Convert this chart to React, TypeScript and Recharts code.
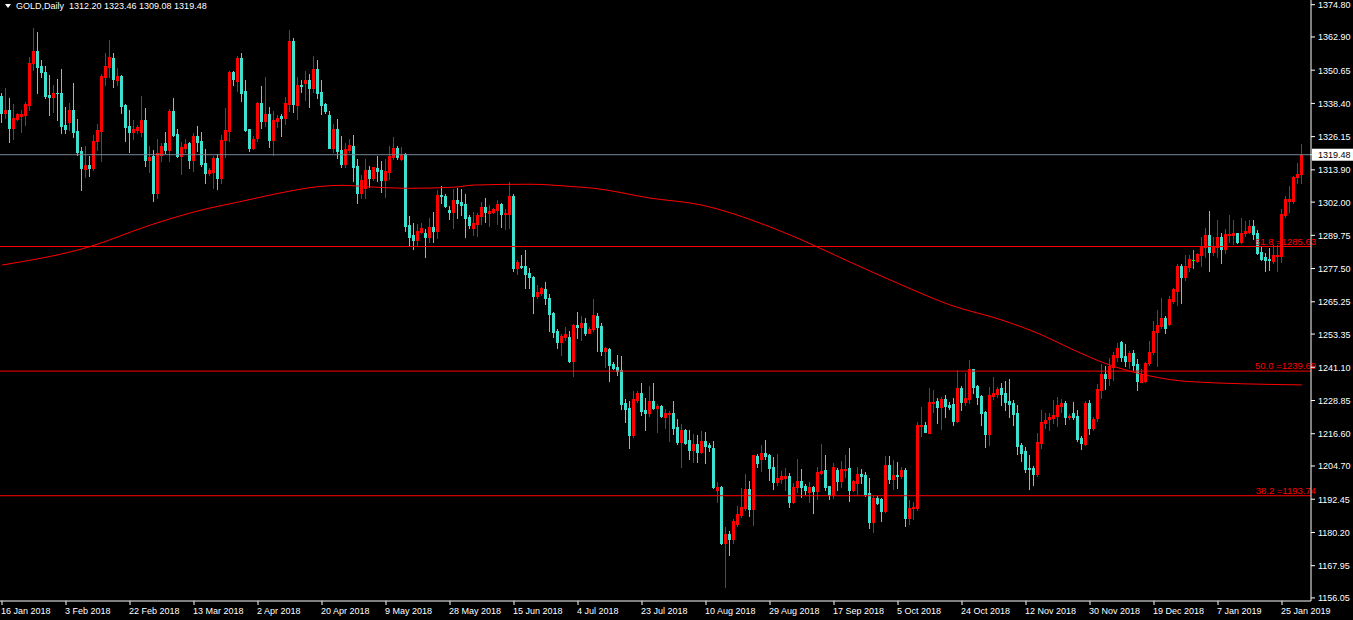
import React from "react"
import { ComposedChart, Bar, Line, XAxis, YAxis, ReferenceLine } from "recharts"

const FONT = '"Liberation Sans", Arial, sans-serif'
const UP = "#FF0000"
const DOWN = "#40E0D0"
const DOJI = "#00FF00"

// daily candles, 16 Jan 2018 .. 31 Jan 2019 (Mon-Sat server bars)
const opens = [
  1341.1, 1335.0, 1336.0, 1329.5, 1332.7, 1333.8, 1334.2, 1337.8, 1353.2, 1357.7,
  1352.2, 1350.1, 1341.5, 1340.9, 1342.4, 1342.1, 1330.5, 1331.7, 1335.8, 1328.2,
  1320.9, 1314.1, 1315.7, 1314.7, 1324.6, 1328.4, 1348.3, 1352.0, 1355.0, 1347.0,
  1348.5, 1337.8, 1330.1, 1328.0, 1328.6, 1328.0, 1332.3, 1317.5, 1319.0, 1305.5,
  1319.4, 1323.7, 1321.2, 1335.6, 1327.1, 1319.1, 1322.0, 1323.8, 1317.5, 1326.4,
  1324.5, 1316.3, 1312.9, 1313.2, 1318.4, 1311.0, 1324.9, 1328.4, 1350.1, 1346.7,
  1355.3, 1343.0, 1328.8, 1322.1, 1325.5, 1338.6, 1331.9, 1334.5, 1324.9, 1331.9,
  1333.9, 1333.1, 1338.2, 1361.5, 1337.8, 1345.2, 1346.1, 1347.0, 1344.2, 1351.1,
  1342.5, 1338.1, 1334.1, 1321.8, 1329.0, 1321.2, 1315.9, 1321.1, 1322.8, 1315.3,
  1305.5, 1307.1, 1313.8, 1311.0, 1314.5, 1313.8, 1310.2, 1313.2, 1318.8, 1322.1,
  1317.9, 1319.7, 1293.6, 1289.9, 1288.0, 1291.1, 1290.7, 1289.3, 1292.7, 1291.5,
  1304.6, 1304.3, 1299.1, 1298.5, 1302.8, 1302.2, 1301.3, 1296.4, 1292.3, 1293.9,
  1296.9, 1300.1, 1298.1, 1298.5, 1299.1, 1301.3, 1297.5, 1297.6, 1304.3, 1277.6,
  1278.6, 1278.4, 1276.0, 1274.5, 1267.5, 1268.4, 1270.0, 1266.8, 1261.2, 1254.5,
  1250.5, 1252.4, 1252.3, 1243.5, 1256.7, 1256.1, 1257.6, 1253.9, 1255.2, 1260.0,
  1256.3, 1247.2, 1247.8, 1242.3, 1241.2, 1240.1, 1228.1, 1226.0, 1216.1, 1229.0,
  1231.7, 1225.4, 1224.4, 1228.7, 1226.2, 1226.8, 1222.9, 1223.9, 1224.4, 1219.2,
  1213.6, 1218.0, 1214.3, 1210.6, 1212.8, 1209.9, 1214.0, 1212.6, 1211.5, 1195.9,
  1197.1, 1176.4, 1179.6, 1177.8, 1183.3, 1186.6, 1189.1, 1196.2, 1188.8, 1208.4,
  1207.3, 1209.6, 1208.8, 1204.5, 1198.9, 1199.9, 1200.4, 1201.0, 1191.5, 1196.8,
  1199.2, 1197.3, 1195.2, 1197.1, 1195.6, 1202.0, 1203.2, 1197.3, 1194.0, 1203.2,
  1199.2, 1203.2, 1203.8, 1195.9, 1198.6, 1201.8, 1201.4, 1194.6, 1184.1, 1193.0,
  1192.4, 1188.2, 1205.1, 1200.0, 1201.4, 1201.0, 1203.2, 1185.7, 1189.1, 1189.3,
  1219.6, 1219.8, 1217.0, 1228.1, 1228.7, 1226.6, 1229.3, 1227.2, 1227.6, 1221.3,
  1233.3, 1228.2, 1229.4, 1240.3, 1234.2, 1230.5, 1224.7, 1216.5, 1230.5, 1231.3,
  1233.3, 1231.5, 1228.8, 1227.8, 1224.4, 1212.5, 1210.2, 1204.1, 1204.1, 1201.8,
  1213.3, 1220.4, 1221.9, 1222.5, 1223.1, 1227.0, 1228.1, 1222.7, 1224.1, 1223.1,
  1214.9, 1212.8, 1228.1, 1218.6, 1222.3, 1232.7, 1238.6, 1237.3, 1241.3, 1245.0,
  1250.5, 1245.3, 1243.4, 1246.5, 1242.3, 1235.8, 1236.0, 1242.6, 1246.6, 1254.2,
  1256.3, 1259.4, 1257.1, 1265.5, 1269.4, 1278.6, 1274.5, 1278.2, 1280.7, 1280.3,
  1282.5, 1285.6, 1289.9, 1283.7, 1285.3, 1289.0, 1284.7, 1289.9, 1289.9, 1290.5,
  1287.4, 1290.5, 1291.1, 1293.2, 1290.5, 1283.5, 1281.9, 1280.9, 1280.4, 1282.1,
  1282.3, 1297.3, 1302.4, 1302.4, 1311.1, 1312.2,
]

const highs = [
  1342.4, 1344.0, 1340.3, 1338.2, 1335.0, 1336.0, 1339.1, 1355.6, 1366.1, 1364.6,
  1354.4, 1352.2, 1348.9, 1345.2, 1347.3, 1351.0, 1337.0, 1338.4, 1345.8, 1332.7,
  1322.5, 1322.7, 1319.1, 1326.8, 1330.9, 1349.3, 1357.1, 1361.8, 1356.9, 1351.4,
  1349.0, 1338.2, 1336.0, 1332.3, 1330.4, 1341.1, 1336.6, 1322.7, 1321.2, 1325.3,
  1323.7, 1327.7, 1336.2, 1340.3, 1329.0, 1324.2, 1325.3, 1324.2, 1327.4, 1330.1,
  1328.0, 1321.5, 1314.7, 1319.0, 1319.6, 1326.8, 1336.6, 1350.5, 1350.5, 1355.9,
  1356.9, 1347.0, 1329.0, 1326.4, 1338.8, 1344.8, 1348.3, 1337.0, 1335.6, 1334.1,
  1334.5, 1340.9, 1365.5, 1362.4, 1348.3, 1347.0, 1350.4, 1349.2, 1355.9, 1354.4,
  1347.0, 1338.7, 1335.6, 1330.8, 1332.5, 1326.2, 1323.9, 1325.2, 1326.8, 1318.0,
  1312.0, 1317.8, 1315.3, 1314.8, 1319.0, 1317.2, 1317.8, 1322.7, 1325.9, 1322.7,
  1322.4, 1320.2, 1296.9, 1294.2, 1293.8, 1294.2, 1292.1, 1296.0, 1298.5, 1306.5,
  1307.9, 1305.0, 1300.6, 1306.7, 1307.1, 1306.7, 1305.0, 1297.3, 1298.5, 1297.9,
  1301.9, 1303.4, 1300.9, 1299.7, 1302.8, 1301.6, 1299.3, 1309.3, 1304.9, 1280.7,
  1282.5, 1284.3, 1277.6, 1274.9, 1271.4, 1270.8, 1272.7, 1268.1, 1261.6, 1255.2,
  1253.3, 1256.0, 1254.5, 1257.1, 1261.4, 1260.1, 1259.2, 1256.0, 1266.2, 1261.2,
  1257.3, 1248.7, 1248.3, 1243.2, 1245.6, 1245.4, 1229.3, 1228.7, 1232.4, 1232.4,
  1235.4, 1229.9, 1234.2, 1235.4, 1227.6, 1227.2, 1225.6, 1225.1, 1228.7, 1221.9,
  1220.2, 1218.3, 1218.0, 1216.5, 1216.1, 1217.7, 1217.1, 1213.3, 1213.9, 1198.9,
  1197.5, 1182.3, 1180.7, 1185.2, 1190.0, 1196.5, 1201.7, 1199.2, 1208.8, 1209.0,
  1212.4, 1214.3, 1209.1, 1208.1, 1209.1, 1203.0, 1203.8, 1202.0, 1198.3, 1207.3,
  1203.5, 1198.1, 1198.7, 1197.3, 1204.5, 1212.8, 1208.8, 1197.5, 1205.8, 1203.8,
  1206.7, 1208.8, 1211.2, 1199.5, 1204.2, 1203.6, 1202.4, 1200.4, 1194.0, 1193.6,
  1192.8, 1208.4, 1208.4, 1206.9, 1206.1, 1204.2, 1203.8, 1192.2, 1191.4, 1221.1,
  1226.3, 1221.1, 1233.3, 1232.7, 1229.7, 1230.3, 1230.9, 1228.4, 1229.7, 1240.1,
  1234.2, 1239.1, 1243.8, 1240.5, 1234.6, 1230.9, 1225.1, 1233.7, 1237.4, 1233.7,
  1235.4, 1236.0, 1236.8, 1229.0, 1227.2, 1213.1, 1211.6, 1208.8, 1204.7, 1216.8,
  1225.4, 1224.1, 1224.1, 1229.0, 1230.0, 1229.3, 1228.8, 1223.9, 1228.4, 1225.4,
  1215.9, 1228.7, 1229.0, 1222.9, 1234.9, 1242.3, 1241.6, 1244.4, 1246.9, 1249.9,
  1250.8, 1249.6, 1247.1, 1247.5, 1244.0, 1240.3, 1243.2, 1250.8, 1258.2, 1262.2,
  1266.5, 1260.0, 1267.4, 1270.2, 1279.1, 1279.2, 1282.5, 1282.5, 1284.4, 1283.4,
  1289.3, 1292.3, 1298.7, 1289.3, 1295.4, 1290.5, 1292.0, 1297.3, 1295.4, 1290.7,
  1296.0, 1295.2, 1295.4, 1295.4, 1291.7, 1285.6, 1283.1, 1285.0, 1286.2, 1286.2,
  1299.3, 1304.3, 1308.0, 1311.6, 1316.3, 1323.46,
]

const lows = [
  1331.7, 1332.9, 1324.0, 1325.4, 1332.3, 1328.0, 1330.5, 1336.0, 1350.7, 1342.4,
  1348.3, 1340.3, 1334.2, 1335.4, 1332.3, 1327.4, 1327.4, 1328.6, 1325.9, 1319.4,
  1306.5, 1311.2, 1311.8, 1313.9, 1321.3, 1317.3, 1345.2, 1348.3, 1344.6, 1345.2,
  1335.0, 1324.7, 1320.6, 1325.4, 1327.4, 1326.4, 1315.5, 1313.2, 1302.5, 1303.6,
  1317.3, 1320.0, 1317.3, 1326.4, 1318.8, 1312.5, 1320.6, 1314.7, 1313.6, 1321.0,
  1315.5, 1308.9, 1311.9, 1307.3, 1307.0, 1308.9, 1318.8, 1324.7, 1345.2, 1343.1,
  1339.3, 1328.2, 1320.9, 1321.6, 1324.5, 1329.5, 1330.2, 1322.5, 1319.4, 1329.8,
  1326.4, 1330.8, 1335.6, 1335.4, 1332.7, 1342.7, 1339.7, 1337.1, 1342.7, 1340.5,
  1334.5, 1334.7, 1321.8, 1320.6, 1318.2, 1315.1, 1315.1, 1320.4, 1309.8, 1301.6,
  1303.4, 1303.4, 1307.7, 1310.2, 1309.9, 1305.9, 1304.0, 1310.4, 1317.8, 1317.8,
  1317.5, 1291.5, 1285.8, 1284.6, 1285.8, 1290.5, 1281.9, 1287.4, 1287.4, 1288.6,
  1301.6, 1300.1, 1295.7, 1292.6, 1296.0, 1297.3, 1289.3, 1292.3, 1289.9, 1289.5,
  1293.8, 1294.5, 1293.3, 1298.1, 1293.9, 1293.0, 1292.0, 1292.6, 1276.7, 1275.4,
  1277.6, 1270.5, 1270.5, 1261.2, 1266.8, 1267.8, 1264.3, 1254.6, 1252.1, 1248.3,
  1245.6, 1251.3, 1243.0, 1238.0, 1252.0, 1251.3, 1253.0, 1253.6, 1254.5, 1247.2,
  1245.6, 1241.3, 1236.2, 1240.4, 1238.3, 1225.7, 1221.1, 1211.5, 1215.5, 1228.4,
  1223.5, 1218.0, 1223.1, 1225.6, 1217.4, 1222.6, 1218.8, 1213.9, 1216.5, 1212.8,
  1204.5, 1212.8, 1207.2, 1206.3, 1206.3, 1209.4, 1205.7, 1210.4, 1196.5, 1191.5,
  1176.0, 1160.2, 1171.9, 1176.4, 1182.6, 1186.0, 1188.5, 1186.3, 1182.9, 1204.5,
  1203.0, 1207.2, 1199.5, 1196.2, 1197.7, 1198.3, 1195.9, 1189.7, 1190.9, 1195.2,
  1193.4, 1194.4, 1191.5, 1187.5, 1192.5, 1201.7, 1195.9, 1192.5, 1192.8, 1195.9,
  1196.8, 1200.5, 1191.9, 1195.6, 1194.4, 1198.3, 1193.6, 1182.0, 1180.5, 1190.7,
  1184.5, 1187.9, 1198.3, 1196.1, 1196.5, 1200.2, 1182.6, 1183.2, 1185.3, 1188.5,
  1215.9, 1217.2, 1216.8, 1224.7, 1220.7, 1218.3, 1222.9, 1225.6, 1219.8, 1220.8,
  1225.4, 1227.2, 1228.1, 1231.7, 1227.6, 1219.8, 1211.6, 1212.5, 1229.3, 1230.3,
  1227.2, 1225.4, 1222.9, 1219.8, 1209.1, 1206.7, 1202.6, 1196.2, 1197.7, 1201.0,
  1211.5, 1218.6, 1218.0, 1220.4, 1219.5, 1224.7, 1220.2, 1221.9, 1221.9, 1214.0,
  1211.1, 1212.4, 1216.5, 1218.0, 1221.3, 1229.9, 1233.1, 1234.6, 1236.4, 1243.5,
  1243.4, 1241.6, 1241.0, 1240.1, 1232.7, 1235.6, 1235.6, 1241.9, 1246.0, 1241.6,
  1255.5, 1253.9, 1256.7, 1264.9, 1264.1, 1264.7, 1273.3, 1276.7, 1277.6, 1280.1,
  1278.5, 1281.9, 1276.7, 1282.5, 1281.9, 1279.4, 1283.4, 1287.4, 1286.6, 1287.1,
  1286.8, 1289.5, 1290.5, 1288.3, 1282.9, 1280.7, 1276.7, 1277.0, 1279.7, 1276.7,
  1280.1, 1296.4, 1298.5, 1301.6, 1309.2, 1309.08,
]

const closes = [
  1335.0, 1336.0, 1329.5, 1332.9, 1334.5, 1334.5, 1338.2, 1353.2, 1357.7, 1352.0,
  1350.1, 1341.1, 1340.8, 1342.1, 1342.1, 1330.1, 1329.1, 1335.8, 1328.0, 1320.5,
  1314.4, 1315.7, 1314.4, 1324.6, 1328.6, 1348.5, 1352.2, 1355.6, 1347.4, 1348.5,
  1337.4, 1329.8, 1327.9, 1329.1, 1329.6, 1332.3, 1317.5, 1318.8, 1305.5, 1320.0,
  1322.7, 1321.2, 1335.6, 1326.8, 1319.0, 1322.2, 1323.4, 1317.5, 1326.4, 1324.3,
  1316.1, 1312.9, 1313.9, 1318.4, 1311.0, 1324.9, 1328.6, 1350.1, 1347.4, 1355.3,
  1342.4, 1328.6, 1321.8, 1325.3, 1338.6, 1331.9, 1334.5, 1324.9, 1332.3, 1332.9,
  1333.1, 1338.6, 1361.5, 1338.1, 1345.2, 1344.8, 1347.0, 1344.2, 1351.1, 1342.1,
  1337.8, 1335.6, 1322.1, 1329.0, 1320.9, 1315.9, 1321.6, 1323.1, 1315.1, 1305.5,
  1310.2, 1313.8, 1311.0, 1314.8, 1313.5, 1310.2, 1313.5, 1319.1, 1322.1, 1318.8,
  1319.4, 1293.2, 1289.3, 1288.0, 1291.4, 1292.6, 1289.3, 1292.7, 1291.5, 1304.6,
  1304.4, 1300.6, 1298.5, 1302.8, 1301.8, 1300.9, 1296.3, 1293.6, 1294.2, 1297.3,
  1300.1, 1298.2, 1298.9, 1299.3, 1301.3, 1297.5, 1298.1, 1304.3, 1277.8, 1279.8,
  1278.2, 1275.5, 1274.3, 1267.5, 1269.0, 1270.2, 1266.5, 1260.9, 1254.2, 1250.5,
  1252.6, 1253.5, 1243.5, 1256.7, 1256.1, 1257.6, 1253.9, 1255.2, 1260.4, 1256.1,
  1247.1, 1248.1, 1241.9, 1240.8, 1239.7, 1227.6, 1225.7, 1216.1, 1229.4, 1231.7,
  1225.1, 1224.4, 1228.7, 1226.2, 1227.0, 1223.1, 1224.4, 1224.4, 1218.8, 1213.6,
  1218.0, 1213.3, 1210.6, 1212.8, 1209.9, 1214.0, 1212.2, 1211.8, 1197.1, 1197.1,
  1176.4, 1179.6, 1177.8, 1184.4, 1187.0, 1189.5, 1196.2, 1188.8, 1208.8, 1205.9,
  1209.4, 1208.5, 1204.1, 1198.9, 1200.2, 1201.0, 1201.0, 1191.5, 1196.8, 1199.2,
  1197.1, 1195.9, 1196.8, 1195.6, 1202.5, 1202.9, 1197.1, 1194.0, 1204.5, 1199.2,
  1203.6, 1203.6, 1195.9, 1199.2, 1201.8, 1201.0, 1194.4, 1184.1, 1193.0, 1191.2,
  1188.2, 1205.1, 1200.0, 1201.4, 1201.1, 1203.2, 1185.7, 1189.3, 1189.7, 1219.8,
  1219.8, 1217.4, 1228.2, 1228.3, 1226.6, 1229.3, 1226.8, 1226.6, 1221.3, 1233.3,
  1228.4, 1229.7, 1240.3, 1234.0, 1230.3, 1224.4, 1216.5, 1230.9, 1231.5, 1233.1,
  1231.3, 1228.4, 1227.4, 1223.9, 1212.1, 1209.4, 1203.5, 1203.7, 1201.8, 1213.7,
  1221.1, 1221.7, 1222.9, 1223.5, 1227.2, 1228.1, 1222.9, 1223.1, 1222.9, 1214.5,
  1213.1, 1228.1, 1218.6, 1222.0, 1233.1, 1238.6, 1237.0, 1241.6, 1245.6, 1248.3,
  1245.0, 1243.4, 1246.5, 1241.9, 1236.0, 1238.5, 1242.8, 1246.9, 1254.5, 1256.7,
  1259.4, 1255.7, 1266.2, 1269.8, 1278.6, 1274.5, 1278.6, 1281.0, 1280.7, 1282.9,
  1285.8, 1289.9, 1283.7, 1285.3, 1289.0, 1284.7, 1290.1, 1290.3, 1290.5, 1287.4,
  1290.5, 1291.5, 1293.2, 1290.3, 1283.4, 1281.0, 1280.7, 1280.7, 1282.5, 1282.5,
  1297.6, 1303.0, 1303.0, 1311.4, 1312.4, 1319.48,
]

// moving average read at some bars: [bar index, value]
const maPoints: [number, number][] = [
  [0, 1278.8], [22, 1285.6], [37, 1293.5], [51, 1299.5], [59, 1302.0], [69, 1305.2],
  [79, 1307.7], [85, 1308.2], [91, 1307.7], [102, 1307.1], [113, 1307.5], [118, 1308.3],
  [132, 1308.6], [142, 1307.8], [148, 1307.1], [162, 1303.5], [175, 1300.9], [190, 1294.0],
  [200, 1288.0], [212, 1279.9], [225, 1271.4], [237, 1264.1], [250, 1258.5], [260, 1253.0],
  [267, 1248.1], [277, 1241.9], [287, 1237.9], [297, 1235.8], [325, 1234.6],
]

const priceTicks = [
  1374.8, 1362.9, 1350.65, 1338.4, 1326.15, 1319.48, 1313.9, 1302.0, 1289.75, 1277.5,
  1265.25, 1253.35, 1241.1, 1228.85, 1216.6, 1204.7, 1192.45, 1180.2, 1167.95, 1156.05,
]
const LAST_PRICE = 1319.48

const dateTicks = [0, 16, 32, 48, 64, 80, 96, 112, 128, 144, 160, 176, 192, 208, 224, 240, 256, 272, 288, 304, 320]
const dateLabels = [
  "16 Jan 2018", "3 Feb 2018", "22 Feb 2018", "13 Mar 2018", "2 Apr 2018", "20 Apr 2018",
  "9 May 2018", "28 May 2018", "15 Jun 2018", "4 Jul 2018", "23 Jul 2018", "10 Aug 2018",
  "29 Aug 2018", "17 Sep 2018", "5 Oct 2018", "24 Oct 2018", "12 Nov 2018", "30 Nov 2018",
  "19 Dec 2018", "7 Jan 2019", "25 Jan 2019",
]

const fibNames = ["61.8", "50.0", "38.2"]
const fibPrices = [1285.63, 1239.69, 1193.74]

const maByBar = new Map(maPoints)
const rows = opens.map((o, i) => ({
  i,
  o,
  h: highs[i],
  l: lows[i],
  c: closes[i],
  range: [lows[i], highs[i]],
  ma: maByBar.has(i) ? maByBar.get(i) : null,
}))

function Candle(props: any) {
  const { x, y, width, height, payload } = props
  const { o, h, l, c } = payload
  const top = Math.min(y, y + height)
  const span = Math.abs(height)
  const py = (v: number) => (h === l ? top : top + ((h - v) / (h - l)) * span)
  const cx = Math.round(x + width / 2)
  const color = c > o ? UP : c < o ? DOWN : DOJI
  const wTop = Math.round(top)
  const wBot = Math.round(top + span)
  const bTop = Math.round(Math.min(py(o), py(c)))
  const bBot = Math.round(Math.max(py(o), py(c)))
  return (
    <g>
      <rect x={cx - 1} y={wTop} width={1} height={Math.max(1, wBot - wTop + 1)} fill={color} />
      <rect x={cx - 2} y={bTop} width={3} height={Math.max(1, bBot - bTop + 1)} fill={color} />
    </g>
  )
}

function PriceTick(props: any) {
  const { x, y, payload } = props
  const v = payload.value as number
  if (v === LAST_PRICE) {
    return (
      <g>
        <rect x={x - 6} y={y - 6} width={50} height={12} fill="#FFFFFF" />
        <text x={x} y={y + 3.5} fill="#000000" fontSize={9} fontFamily={FONT}>
          {v.toFixed(2)}
        </text>
      </g>
    )
  }
  return (
    <text x={x} y={y + 3.5} fill="#FFFFFF" fontSize={9} fontFamily={FONT}>
      {v.toFixed(2)}
    </text>
  )
}

function DateTick(props: any) {
  const { x, y, payload } = props
  const idx = dateTicks.indexOf(payload.value)
  return (
    <text x={x - 1} y={y + 7} fill="#FFFFFF" fontSize={9} fontFamily={FONT}>
      {dateLabels[idx]}
    </text>
  )
}

function fibLabel(text: string) {
  return (p: any) => {
    const vb = p.viewBox || {}
    return (
      <text
        x={vb.x + vb.width + 5}
        y={vb.y - 2}
        textAnchor="end"
        fill="#FF0000"
        fontSize={9.5}
        fontFamily={FONT}
      >
        {text}
      </text>
    )
  }
}

export default function App() {
  return (
    <div style={{ position: "absolute", left: 0, top: 0, width: 1353, height: 620, background: "#000", overflow: "hidden" }}>
      <ComposedChart
        width={1353}
        height={620}
        data={rows}
        margin={{ top: 0, right: 0, bottom: 0, left: 0 }}
        barCategoryGap={0}
      >
        <XAxis
          dataKey="i"
          type="category"
          ticks={dateTicks}
          interval={0}
          tick={<DateTick />}
          tickSize={4}
          tickLine={{ stroke: "#FFFFFF" }}
          axisLine={{ stroke: "#FFFFFF" }}
          height={19}
          padding={{ left: 0, right: 7 }}
        />
        <YAxis
          orientation="right"
          type="number"
          domain={[1154.92, 1376.53]}
          allowDataOverflow
          ticks={priceTicks}
          interval={0}
          tick={<PriceTick />}
          tickSize={4}
          tickMargin={3}
          tickLine={{ stroke: "#FFFFFF" }}
          axisLine={{ stroke: "#FFFFFF" }}
          width={42}
        />
        <Bar dataKey="range" shape={Candle} isAnimationActive={false} />
        <Line
          dataKey="ma"
          type="monotone"
          stroke="#FF0000"
          strokeWidth={1}
          dot={false}
          activeDot={false}
          connectNulls
          isAnimationActive={false}
        />
        <ReferenceLine y={LAST_PRICE} stroke="#778899" strokeWidth={1} />
        {fibPrices.map((p, k) => (
          <ReferenceLine
            key={fibNames[k]}
            y={p}
            stroke="#FF0000"
            strokeWidth={1}
            label={fibLabel(`${fibNames[k]} =${p.toFixed(2)}`)}
          />
        ))}
      </ComposedChart>
      <div
        style={{
          position: "absolute",
          left: 4,
          top: 1,
          color: "#FFFFFF",
          fontFamily: FONT,
          fontSize: 9,
          whiteSpace: "pre",
          display: "flex",
          alignItems: "center",
        }}
      >
        <svg width={8} height={10} style={{ marginRight: 4 }}>
          <polygon points="1,3 7,3 4,7" fill="#FFFFFF" />
        </svg>
        <span>GOLD,Daily  1312.20 1323.46 1309.08 1319.48</span>
      </div>
    </div>
  )
}
